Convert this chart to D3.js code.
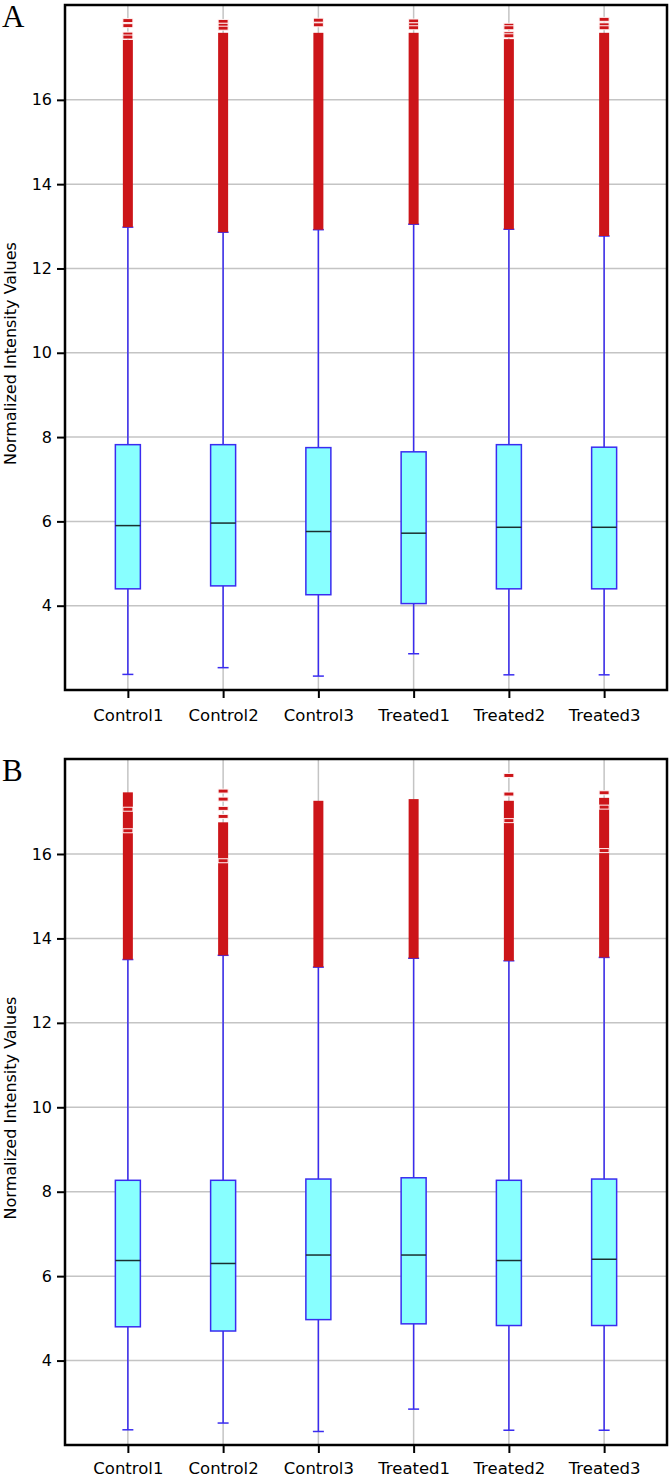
<!DOCTYPE html>
<html><head><meta charset="utf-8">
<script src="https://cdn.jsdelivr.net/npm/d3@7"></script>
<style>body{margin:0;background:#fff}svg{display:block}</style>
</head><body>
<svg id="chart" width="671" height="1477"></svg>
<script>
const samples = ["Control1","Control2","Control3","Treated1","Treated2","Treated3"];
const yTicks = [4,6,8,10,12,14,16];

// Panel A
const aLow   = [2.37, 2.53, 2.33, 2.86, 2.36, 2.36];
const aQ1    = [4.40, 4.47, 4.26, 4.05, 4.40, 4.40];
const aMed   = [5.90, 5.96, 5.76, 5.72, 5.86, 5.86];
const aQ3    = [7.82, 7.82, 7.75, 7.65, 7.82, 7.76];
const aHigh  = [12.98, 12.86, 12.92, 13.05, 12.93, 12.77];
const aDenseTop = [17.42, 17.59, 17.59, 17.59, 17.44, 17.59];
const aOutliers = [
  [17.88, 17.76, 17.56, 17.49],
  [17.86, 17.77, 17.70],
  [17.89, 17.78],
  [17.87, 17.78, 17.71],
  [17.77, 17.71, 17.57, 17.52],
  [17.91, 17.78, 17.71]
];

// Panel B
const bLow   = [2.36, 2.52, 2.32, 2.85, 2.35, 2.35];
const bQ1    = [4.80, 4.70, 4.97, 4.87, 4.83, 4.83];
const bMed   = [6.37, 6.30, 6.50, 6.50, 6.37, 6.40];
const bQ3    = [8.27, 8.27, 8.30, 8.33, 8.27, 8.30];
const bHigh  = [13.50, 13.60, 13.32, 13.53, 13.47, 13.55];
const bDenseTop = [17.46, 16.75, 17.26, 17.30, 17.26, 17.33];
const bOutliers = [
  [17.06, 16.55],
  [17.49, 17.30, 17.08, 16.89, 15.84],
  [],
  [],
  [17.86, 17.42, 16.79],
  [17.45, 17.11, 16.08]
];

const panels = [
  {letter:"A", top:5, bottom:690, labelY:30, low:aLow, q1:aQ1, med:aMed, q3:aQ3, high:aHigh, dense:aDenseTop, out:aOutliers},
  {letter:"B", top:759, bottom:1445, labelY:28, low:bLow, q1:bQ1, med:bMed, q3:bQ3, high:bHigh, dense:bDenseTop, out:bOutliers}
];

const svg = d3.select("#chart");
const left = 65, right = 667;
const RED = "#cc1519", BLUE = "#3a2cf0", BOXFILL = "#88ffff", GRID = "#c4c4c4";
const font = "'DejaVu Sans', sans-serif";

panels.forEach(p => {
  const g = svg.append("g");
  const x = d3.scalePoint().domain(samples).range([left, right]).padding(0.66);
  const y = d3.scaleLinear().domain([2, 18.25]).range([p.bottom, p.top]);

  // gridlines
  g.selectAll(".hg").data(yTicks).join("line")
    .attr("x1", left).attr("x2", right)
    .attr("y1", d => y(d)).attr("y2", d => y(d))
    .attr("stroke", GRID).attr("stroke-width", 1.5);
  g.selectAll(".vg").data(samples).join("line")
    .attr("x1", d => x(d)).attr("x2", d => x(d))
    .attr("y1", p.top).attr("y2", p.bottom)
    .attr("stroke", GRID).attr("stroke-width", 1.5);

  const bw = 25, cw = 11, ow = 10;
  samples.forEach((s, i) => {
    const cx = x(s);
    g.append("line").attr("x1", cx).attr("x2", cx)
      .attr("y1", y(p.low[i])).attr("y2", y(p.high[i]))
      .attr("stroke", BLUE).attr("stroke-width", 1.5);
    [p.low[i], p.high[i]].forEach(v => {
      g.append("line").attr("x1", cx - cw/2).attr("x2", cx + cw/2)
        .attr("y1", y(v)).attr("y2", y(v))
        .attr("stroke", BLUE).attr("stroke-width", 1.5);
    });
    g.append("rect").attr("x", cx - bw/2).attr("width", bw)
      .attr("y", y(p.q3[i])).attr("height", y(p.q1[i]) - y(p.q3[i]))
      .attr("fill", BOXFILL).attr("stroke", BLUE).attr("stroke-width", 1.5);
    g.append("line").attr("x1", cx - bw/2).attr("x2", cx + bw/2)
      .attr("y1", y(p.med[i])).attr("y2", y(p.med[i]))
      .attr("stroke", "#1a3030").attr("stroke-width", 1.5);
    g.append("rect").attr("x", cx - ow/2).attr("width", ow)
      .attr("y", y(p.dense[i])).attr("height", y(p.high[i]) - y(p.dense[i]))
      .attr("fill", RED);
    g.selectAll(null).data(p.out[i]).join("rect")
      .attr("x", cx - ow/2).attr("width", ow)
      .attr("y", d => y(d) - 2).attr("height", 4)
      .attr("fill", RED).attr("stroke", "#fff4f4").attr("stroke-width", 1);
  });

  g.append("rect").attr("x", left).attr("y", p.top)
    .attr("width", right - left).attr("height", p.bottom - p.top)
    .attr("fill", "none").attr("stroke", "#000").attr("stroke-width", 2.5);

  const ya = g.append("g").attr("transform", `translate(${left - 1},0)`)
    .call(d3.axisLeft(y).tickValues(yTicks).tickSize(7).tickPadding(5).tickFormat(d3.format("d")));
  ya.select(".domain").remove();
  ya.selectAll(".tick line").attr("stroke", "#000").attr("stroke-width", 2);
  ya.selectAll(".tick text").attr("font-family", font).attr("font-size", 16).attr("fill", "#000");

  const xa = g.append("g").attr("transform", `translate(0,${p.bottom + 1})`)
    .call(d3.axisBottom(x).tickSize(7).tickPadding(0));
  xa.select(".domain").remove();
  xa.selectAll(".tick line").attr("stroke", "#000").attr("stroke-width", 2);
  xa.selectAll(".tick text").attr("font-family", font).attr("font-size", 16.5).attr("fill", "#000")
    .attr("dy", null).attr("y", p.labelY);

  g.append("text")
    .attr("transform", `translate(16,${(p.top + p.bottom) / 2 + 6}) rotate(-90)`)
    .attr("text-anchor", "middle").attr("font-family", font).attr("font-size", 16)
    .text("Normalized Intensity Values");

  g.append("text").attr("x", 2).attr("y", p.top + 22)
    .attr("font-family", "'Liberation Serif', serif").attr("font-size", 31)
    .text(p.letter);
});
</script>
</body></html>
